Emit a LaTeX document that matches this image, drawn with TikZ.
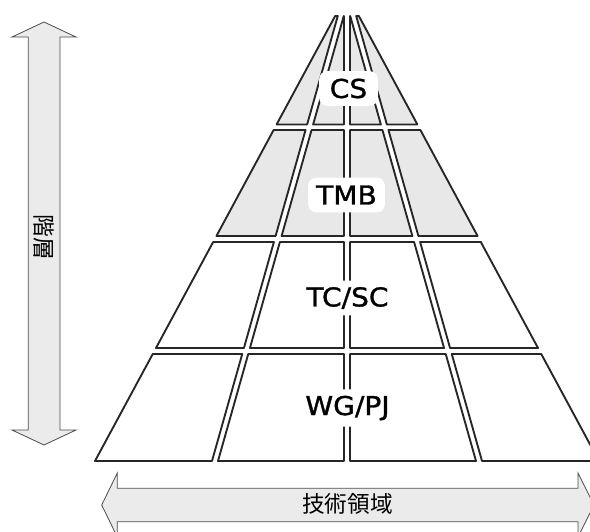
\documentclass[tikz,border=0pt]{standalone}
\usepackage{fontspec}
\setmainfont{DejaVu Sans}
\newfontfamily\jp{Noto Sans CJK JP}
\definecolor{shade}{RGB}{232,232,232}
\definecolor{arrowfill}{RGB}{235,235,235}
\begin{document}
\begin{tikzpicture}[x=0.75pt,y=-0.75pt,
  declare function={Lx(\q)=347-0.539615*(\q+6); Bx(\q)=347-0.282655*(\q+6);
                    Cx(\q)=347+0.282655*(\q+6); Rx(\q)=347+0.539615*(\q+6);},
  cell/.style={draw=black!85,line width=1.4pt,line join=round},
  blockarrow/.style={draw=black!70,line width=0.6pt,fill=arrowfill,line join=miter},
  labelbox/.style={fill=white,rounded corners=6pt,inner xsep=6pt,minimum height=26pt,
                   font=\fontsize{19.5}{22}\selectfont\addfontfeature{FakeStretch=1.08,FakeBold=1.2}},
  jplabel/.style={font=\jp\fontsize{17}{20}\selectfont,inner sep=0pt}]
\useasboundingbox (0,0) rectangle (590,532);
\clip (0,0) rectangle (590,532);
% pyramid cells
\foreach \ya/\yb/\fc in {16/124.5/shade,130/236/shade,242/348/white,354/461/white}{
  \draw[cell,fill=\fc] ({Lx(\ya)},\ya) -- ({Bx(\ya)-3},\ya) -- ({Bx(\yb)-3},\yb) -- ({Lx(\yb)},\yb) -- cycle;
  \draw[cell,fill=\fc] ({Bx(\ya)+3},\ya) -- (344,\ya) -- (344,\yb) -- ({Bx(\yb)+3},\yb) -- cycle;
  \draw[cell,fill=\fc] (350,\ya) -- ({Cx(\ya)-3},\ya) -- ({Cx(\yb)-3},\yb) -- (350,\yb) -- cycle;
  \draw[cell,fill=\fc] ({Cx(\ya)+3},\ya) -- ({Rx(\ya)},\ya) -- ({Rx(\yb)},\yb) -- ({Cx(\yb)+3},\yb) -- cycle;
}
% level labels
\node[labelbox,minimum width=44pt] (cs) at (348.5,88.5) {CS};
\node[labelbox,minimum width=55pt] (tmb) at (346.5,195) {TMB};
\node[labelbox,minimum width=80pt] (tcsc) at (347.5,298) {TC/SC};
\node[labelbox,minimum width=80pt,minimum height=28pt] (wgpj) at (347.5,408) {WG/PJ};
% vertical arrow
\draw[blockarrow] (44,22) -- (76,37) -- (60,37) -- (60,430) -- (76,430) -- (44,445)
  -- (12,430) -- (28.3,430) -- (28.3,37) -- (12,37) -- cycle;
\node[jplabel,rotate=-90] (kaiso) at (44,237) {階層};
% horizontal arrow
\draw[blockarrow] (101.7,505) -- (117.3,473) -- (117.3,488.3) -- (578,488.3) -- (578,473)
  -- (594,505) -- (578,537) -- (578,521.7) -- (117.3,521.7) -- (117.3,537) -- cycle;
\node[jplabel] (gijutsu) at (347.5,504) {技術領域};
\end{tikzpicture}
\end{document}
